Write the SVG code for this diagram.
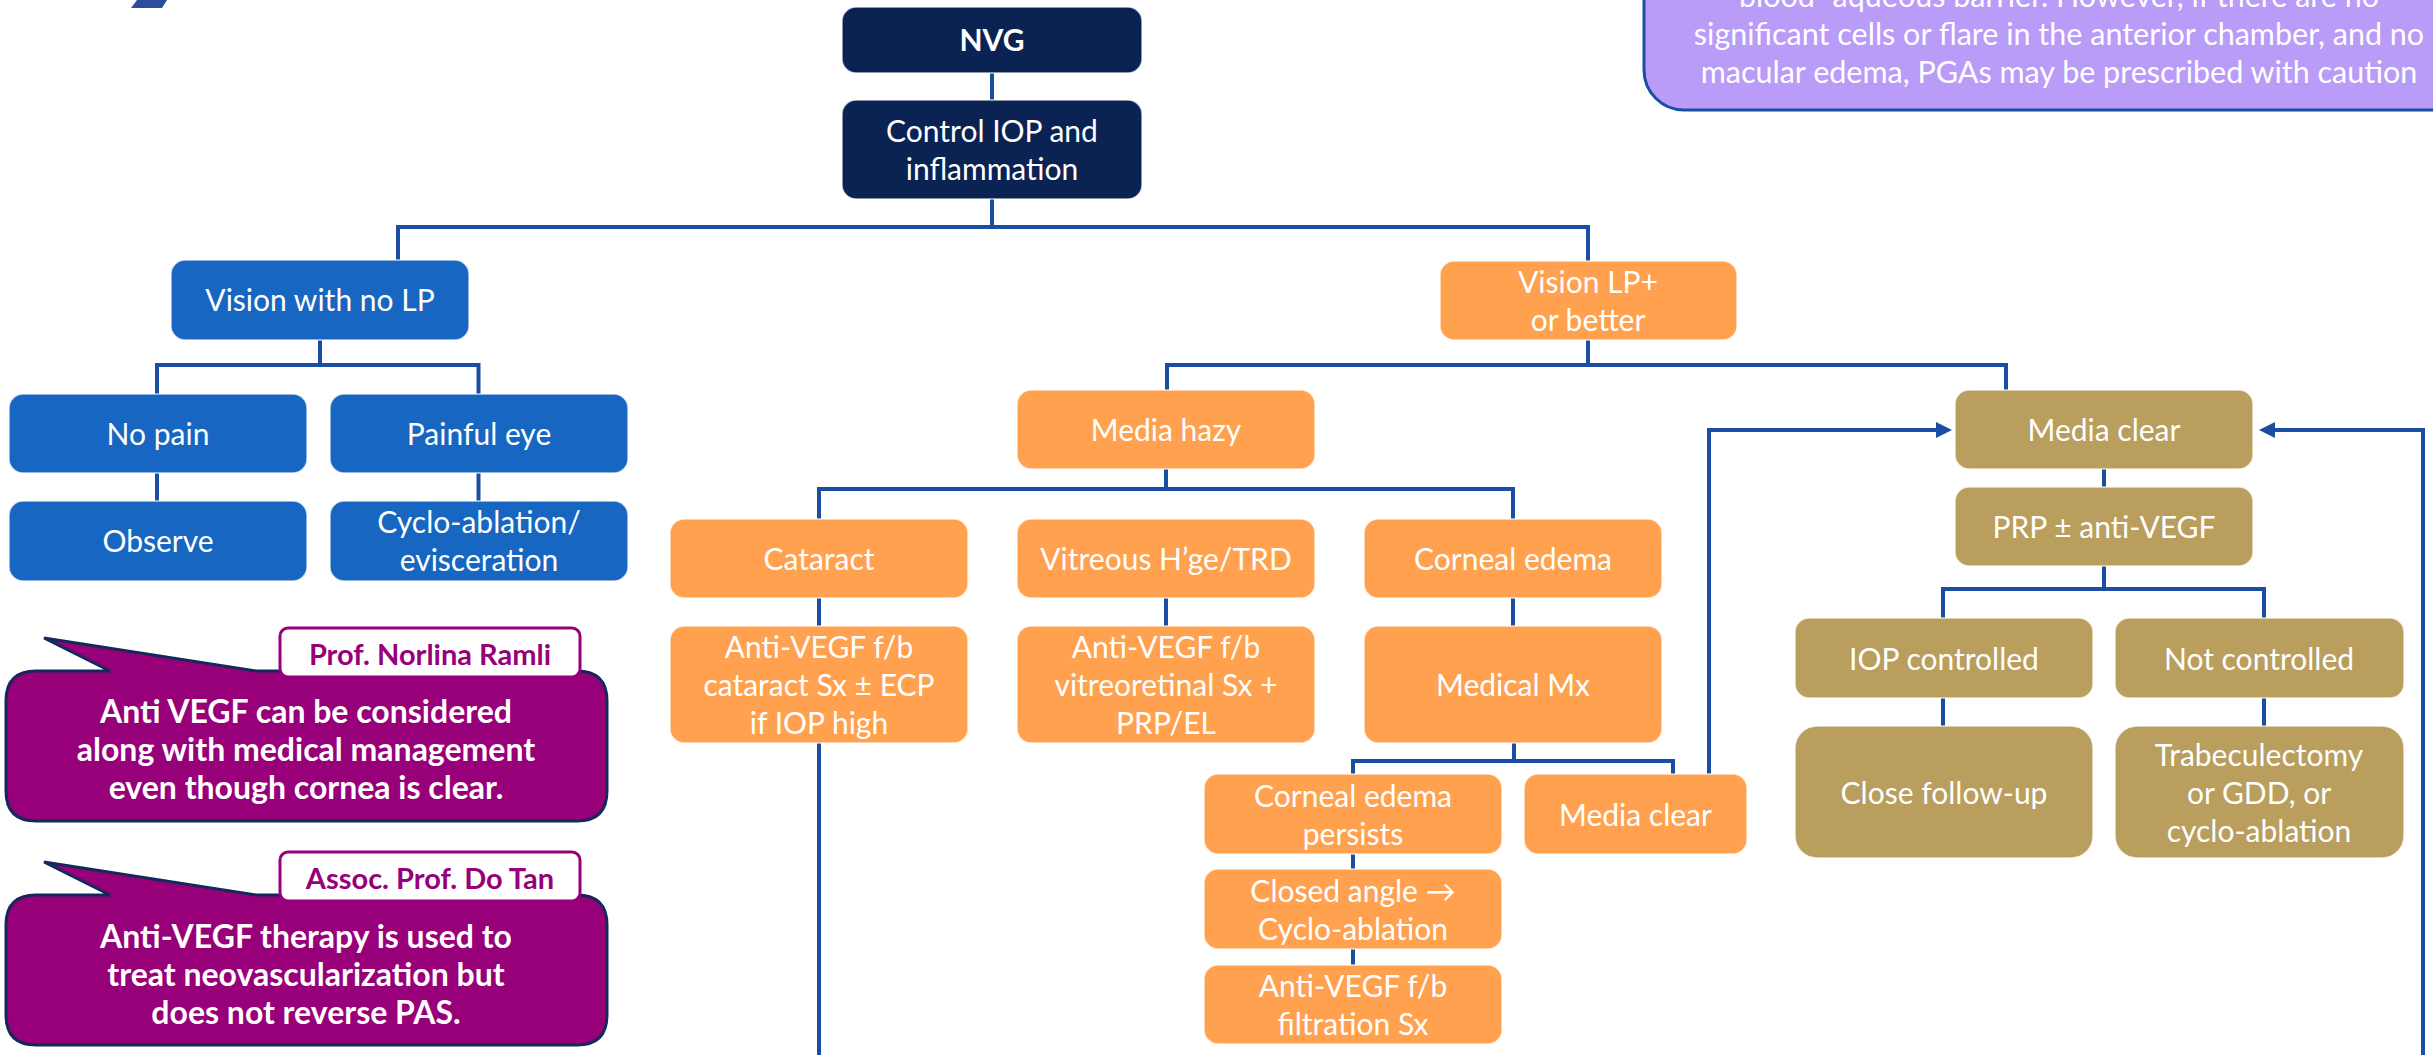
<svg xmlns="http://www.w3.org/2000/svg" width="2433" height="1055" viewBox="0 0 2433 1055">
  <style>
    .conn { fill: none; stroke: #1A4EA2; stroke-width: 4; }
    .box { stroke: #ffffff; stroke-opacity: 0.7; stroke-width: 1.5; }
    .navy { fill: #0B2352; }
    .blue { fill: #1766C1; }
    .orange { fill: #FFA14F; }
    .gold { fill: #B99E5D; }
    text { font-family: Lato, "Noto Sans", sans-serif; font-size: 30px; fill: #ffffff; text-anchor: middle; }
    .bold { font-weight: 700; }
    .say { font-weight: 700; font-size: 32px; }
    .callout { fill: #98007A; stroke: #14285A; stroke-width: 3; }
    .tag { fill: #ffffff; stroke: #98007A; stroke-width: 3; }
    .tagtext { fill: #98007A; font-weight: 700; font-size: 29px; }
    .note { fill: #B99CF7; stroke: #1A4EA2; stroke-width: 3; }
    .notetext { font-size: 30.5px; }
  </style>
  <defs>
    <marker id="arrow" viewBox="0 0 16 16" refX="4" refY="8" markerWidth="16" markerHeight="16" markerUnits="userSpaceOnUse" orient="auto">
      <path d="M0,0 L16,8 L0,16 Z" fill="#1A4EA2"/>
    </marker>
  </defs>

  <rect width="2433" height="1055" fill="#ffffff"/>

  <!-- logo corner -->
  <polygon points="137,0 167,0 162,8 131,8" fill="#2C4D9E"/>

  <!-- note box, top right -->
  <g id="note">
    <rect class="note" x="1644" y="-80" width="850" height="190" rx="40"/>
    <text class="notetext" x="2059" y="7">blood–aqueous barrier. However, if there are no</text>
    <text class="notetext" x="2059" y="45">significant cells or flare in the anterior chamber, and no</text>
    <text class="notetext" x="2059" y="83">macular edema, PGAs may be prescribed with caution</text>
  </g>

  <!-- connectors -->
  <g id="connectors">
    <path class="conn" d="M992,73 V100"/>
    <path class="conn" d="M992,199 V227"/>
    <path class="conn" d="M398,260 V227 H1588 V261"/>
    <path class="conn" d="M320,340 V365"/>
    <path class="conn" d="M157,394 V365 H478.5 V394"/>
    <path class="conn" d="M157,473 V501"/>
    <path class="conn" d="M478.5,473 V501"/>
    <path class="conn" d="M1588,340 V365"/>
    <path class="conn" d="M1167,390 V365 H2006 V390"/>
    <path class="conn" d="M1166,469 V489"/>
    <path class="conn" d="M819,519 V489 H1513 V519"/>
    <path class="conn" d="M819,598 V626"/>
    <path class="conn" d="M1166,598 V626"/>
    <path class="conn" d="M1513,598 V626"/>
    <path class="conn" d="M819,743 V1055"/>
    <path class="conn" d="M1514,743 V761"/>
    <path class="conn" d="M1353,774 V761 H1673 V774"/>
    <path class="conn" d="M1353,854 V869"/>
    <path class="conn" d="M1353,949 V965"/>
    <path class="conn" d="M1709,774 V430 H1940" marker-end="url(#arrow)"/>
    <path class="conn" d="M2423,1055 V430 H2271" marker-end="url(#arrow)"/>
    <path class="conn" d="M2104,469 V487"/>
    <path class="conn" d="M2104,566 V589"/>
    <path class="conn" d="M1943,618 V589 H2264 V618"/>
    <path class="conn" d="M1943,698 V726"/>
    <path class="conn" d="M2264,698 V726"/>
  </g>

  <!-- top nodes -->
  <g id="nvg">
    <rect class="box navy" x="842" y="7" width="300" height="66" rx="14"/>
    <text class="bold" x="992" y="51">NVG</text>
  </g>
  <g id="control-iop">
    <rect class="box navy" x="842" y="100" width="300" height="99" rx="14"/>
    <text x="992" y="142">Control IOP and</text>
    <text x="992" y="180">inflammation</text>
  </g>

  <!-- no light perception branch -->
  <g id="vision-no-lp">
    <rect class="box blue" x="171" y="260" width="298" height="80" rx="14"/>
    <text x="320" y="311">Vision with no LP</text>
  </g>
  <g id="no-pain">
    <rect class="box blue" x="9" y="394" width="298" height="79" rx="14"/>
    <text x="158" y="445">No pain</text>
  </g>
  <g id="painful-eye">
    <rect class="box blue" x="330" y="394" width="298" height="79" rx="14"/>
    <text x="479" y="445">Painful eye</text>
  </g>
  <g id="observe">
    <rect class="box blue" x="9" y="501" width="298" height="80" rx="14"/>
    <text x="158" y="552">Observe</text>
  </g>
  <g id="cyclo-evisceration">
    <rect class="box blue" x="330" y="501" width="298" height="80" rx="14"/>
    <text x="479" y="533">Cyclo-ablation/</text>
    <text x="479" y="571">evisceration</text>
  </g>

  <!-- light perception branch -->
  <g id="vision-lp">
    <rect class="box orange" x="1440" y="261" width="297" height="79" rx="14"/>
    <text x="1588" y="293">Vision LP+</text>
    <text x="1588" y="331">or better</text>
  </g>
  <g id="media-hazy">
    <rect class="box orange" x="1017" y="390" width="298" height="79" rx="14"/>
    <text x="1166" y="441">Media hazy</text>
  </g>
  <g id="cataract">
    <rect class="box orange" x="670" y="519" width="298" height="79" rx="14"/>
    <text x="819" y="570">Cataract</text>
  </g>
  <g id="vitreous">
    <rect class="box orange" x="1017" y="519" width="298" height="79" rx="14"/>
    <text x="1166" y="570">Vitreous H’ge/TRD</text>
  </g>
  <g id="corneal-edema">
    <rect class="box orange" x="1364" y="519" width="298" height="79" rx="14"/>
    <text x="1513" y="570">Corneal edema</text>
  </g>
  <g id="cataract-tx">
    <rect class="box orange" x="670" y="626" width="298" height="117" rx="14"/>
    <text x="819" y="658">Anti-VEGF f/b</text>
    <text x="819" y="696">cataract Sx ± ECP</text>
    <text x="819" y="734">if IOP high</text>
  </g>
  <g id="vitreous-tx">
    <rect class="box orange" x="1017" y="626" width="298" height="117" rx="14"/>
    <text x="1166" y="658">Anti-VEGF f/b</text>
    <text x="1166" y="696">vitreoretinal Sx +</text>
    <text x="1166" y="734">PRP/EL</text>
  </g>
  <g id="medical-mx">
    <rect class="box orange" x="1364" y="626" width="298" height="117" rx="14"/>
    <text x="1513" y="696">Medical Mx</text>
  </g>
  <g id="edema-persists">
    <rect class="box orange" x="1204" y="774" width="298" height="80" rx="14"/>
    <text x="1353" y="807">Corneal edema</text>
    <text x="1353" y="845">persists</text>
  </g>
  <g id="media-clear-orange">
    <rect class="box orange" x="1524" y="774" width="223" height="80" rx="14"/>
    <text x="1635.5" y="826">Media clear</text>
  </g>
  <g id="closed-angle">
    <rect class="box orange" x="1204" y="869" width="298" height="80" rx="14"/>
    <text x="1353" y="902">Closed angle →</text>
    <text x="1353" y="940">Cyclo-ablation</text>
  </g>
  <g id="filtration">
    <rect class="box orange" x="1204" y="965" width="298" height="79" rx="14"/>
    <text x="1353" y="997">Anti-VEGF f/b</text>
    <text x="1353" y="1035">filtration Sx</text>
  </g>

  <!-- clear media pathway -->
  <g id="media-clear">
    <rect class="box gold" x="1955" y="390" width="298" height="79" rx="14"/>
    <text x="2104" y="441">Media clear</text>
  </g>
  <g id="prp">
    <rect class="box gold" x="1955" y="487" width="298" height="79" rx="14"/>
    <text x="2104" y="538">PRP ± anti-VEGF</text>
  </g>
  <g id="iop-controlled">
    <rect class="box gold" x="1795" y="618" width="298" height="80" rx="14"/>
    <text x="1944" y="670">IOP controlled</text>
  </g>
  <g id="not-controlled">
    <rect class="box gold" x="2115" y="618" width="289" height="80" rx="14"/>
    <text x="2259" y="670">Not controlled</text>
  </g>
  <g id="close-follow-up">
    <rect class="box gold" x="1795" y="726" width="298" height="132" rx="22"/>
    <text x="1944" y="804">Close follow-up</text>
  </g>
  <g id="trabeculectomy">
    <rect class="box gold" x="2115" y="726" width="289" height="132" rx="22"/>
    <text x="2259" y="766">Trabeculectomy</text>
    <text x="2259" y="804">or GDD, or</text>
    <text x="2259" y="842">cyclo-ablation</text>
  </g>

  <!-- expert comments -->
  <g id="comment-ramli">
    <path class="callout" d="M36,671 H110 L44,638 L256,671 H577 Q607,671 607,701 V791 Q607,821 577,821 H36 Q6,821 6,791 V701 Q6,671 36,671 Z"/>
    <rect class="tag" x="280" y="628" width="300" height="49" rx="8"/>
    <text class="tagtext" x="430" y="665">Prof. Norlina Ramli</text>
    <text class="say" x="306" y="723">Anti VEGF can be considered</text>
    <text class="say" x="306" y="761">along with medical management</text>
    <text class="say" x="306" y="799">even though cornea is clear.</text>
  </g>
  <g id="comment-tan">
    <path class="callout" d="M36,895 H110 L44,862 L256,895 H577 Q607,895 607,925 V1015 Q607,1045 577,1045 H36 Q6,1045 6,1015 V925 Q6,895 36,895 Z"/>
    <rect class="tag" x="280" y="852" width="300" height="49" rx="8"/>
    <text class="tagtext" x="430" y="889">Assoc. Prof. Do Tan</text>
    <text class="say" x="306" y="948">Anti-VEGF therapy is used to</text>
    <text class="say" x="306" y="986">treat neovascularization but</text>
    <text class="say" x="306" y="1024">does not reverse PAS.</text>
  </g>
</svg>
